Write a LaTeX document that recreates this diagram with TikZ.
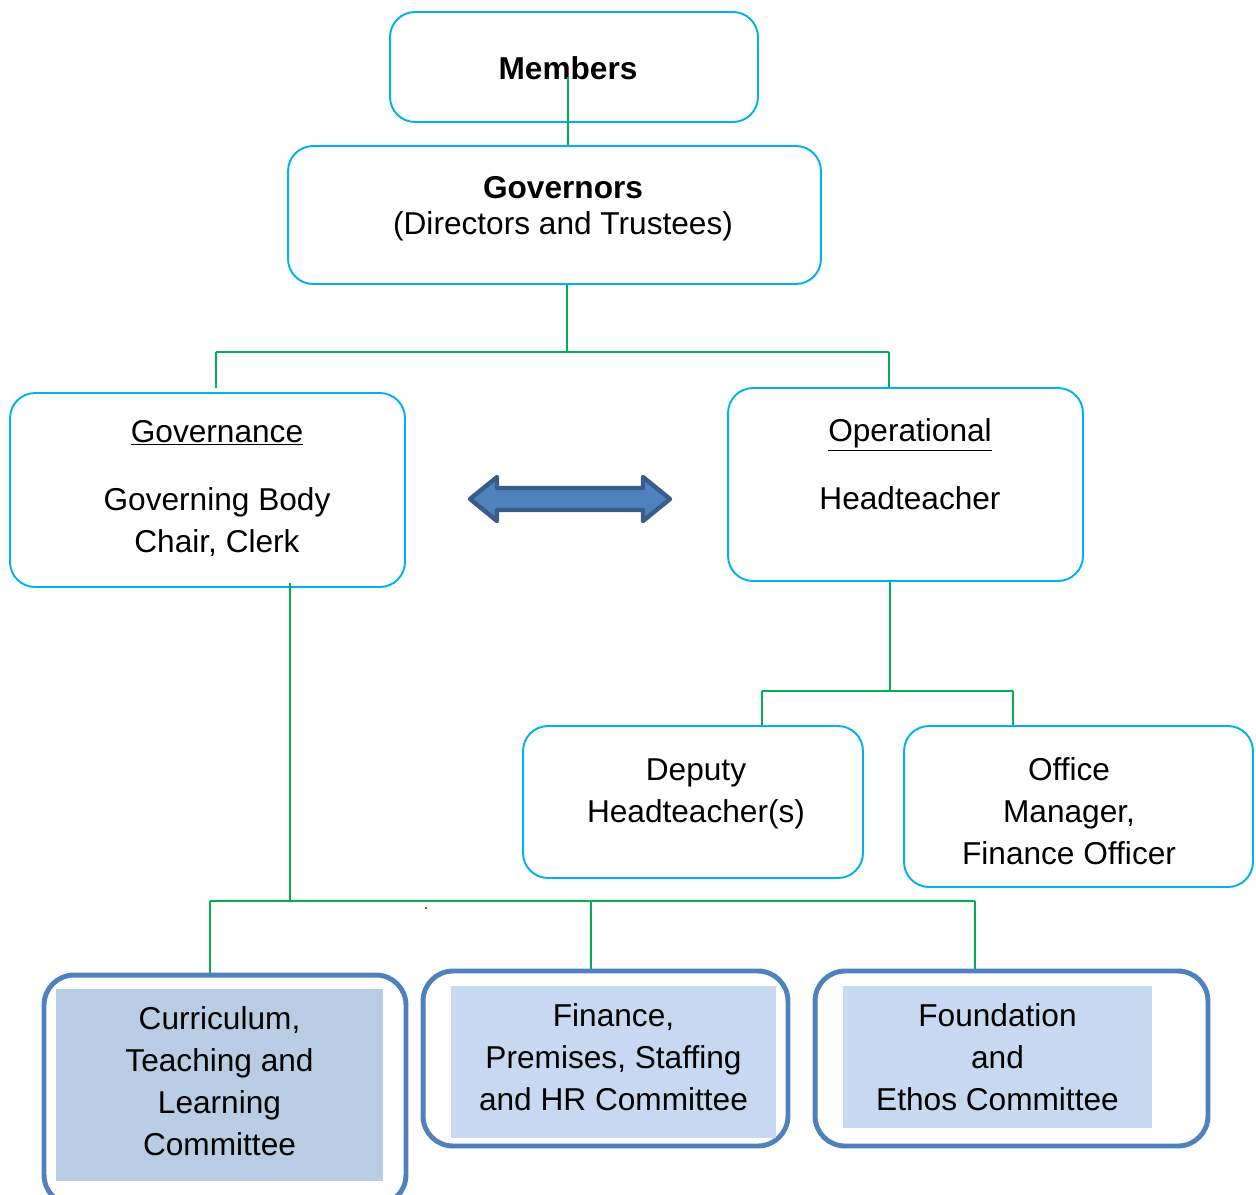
\documentclass[tikz,border=0pt]{standalone}
\usepackage{fontspec}
\setmainfont{Liberation Sans}
\usetikzlibrary{calc}

\definecolor{boxcyan}{HTML}{00B0F0}
\definecolor{linkgreen}{HTML}{00B050}
\definecolor{cttblue}{HTML}{4F81BD}
\definecolor{cttdark}{HTML}{385D8A}
\definecolor{cttfill}{HTML}{B8CCE4}
\definecolor{cttlight}{HTML}{C6D9F1}

\begin{document}
\begin{tikzpicture}[x=0.02cm, y=-0.02cm,
		font=\fontsize{18}{23.8}\selectfont,
		govbox/.style={draw=boxcyan, line width=1.1pt, rounded corners=0.5cm, inner sep=0pt},
		cttbox/.style={draw=cttblue, line width=2.8pt, rounded corners=0.6cm, inner sep=0pt},
		cttinner/.style={inner sep=0pt},
		txt/.style={align=center, inner sep=0pt},
		link/.style={draw=linkgreen, line width=1pt}]
				\useasboundingbox (0,0) rectangle (1256,1194);
				
				% boxes
				\node[govbox, minimum width=7.36cm, minimum height=2.2cm] (mem) at (574,67) {};
				\node[govbox, minimum width=10.66cm, minimum height=2.76cm] (govs) at (554.5,215) {};
				\node[govbox, minimum width=7.9cm, minimum height=3.88cm] (gvn) at (207.5,490) {};
				\node[govbox, minimum width=7.1cm, minimum height=3.86cm] (opn) at (905.5,484.5) {};
				\node[govbox, minimum width=6.8cm, minimum height=3.04cm] (dep) at (693,802) {};
				\node[govbox, minimum width=6.98cm, minimum height=3.22cm] (off) at (1078.5,806.5) {};
				
				\node[cttbox, minimum width=7.24cm, minimum height=4.6cm] (cur) at (225,1090) {};
				\node[cttbox, minimum width=7.3cm, minimum height=3.5cm] (fin) at (605.5,1058.5) {};
				\node[cttbox, minimum width=7.86cm, minimum height=3.5cm] (fnd) at (1011.5,1058.5) {};
				
				\node[cttinner, fill=cttfill, minimum width=6.54cm, minimum height=3.84cm] (curfill) at (219.5,1085) {};
				\node[cttinner, fill=cttlight, minimum width=6.5cm, minimum height=3.04cm] (finfill) at (613.5,1062) {};
				\node[cttinner, fill=cttlight, minimum width=6.18cm, minimum height=2.84cm] (fndfill) at (997.5,1057) {};
				
				% texts
				\node[txt] (mtxt) at (568,68) {\textbf{Members}};
				\node[txt] (gtxt) at (563,209) {\textbf{Governors}\\[-3.4pt](Directors and Trustees)};
				\node[txt] (gvntxt) at (217,488) {\underline{Governance}\\[15pt]Governing Body\\Chair, Clerk};
				\node[txt] (opntxt) at (910,464) {\underline{Operational}\\[15pt]Headteacher};
				\node[txt] (deptxt) at (696,794) {Deputy\\Headteacher(s)};
				\node[txt] (offtxt) at (1069,811) {Office\\Manager,\\Finance Officer};
				\node[txt] (curtxt) at (219.5,1081) {Curriculum,\\Teaching and\\Learning\\Committee};
				\node[txt] (fintxt) at (613.5,1057) {Finance,\\Premises, Staffing\\and HR Committee};
				\node[txt] (fndtxt) at (997.5,1057) {Foundation\\and\\Ethos Committee};
				
				% two-way arrow
				\draw[fill=cttblue, draw=cttdark, line width=2.5pt, line join=round]
					(470,499) -- (497,477) -- (497,488) -- (643,488) -- (643,477) -- (670,499)
					-- (643,521) -- (643,510) -- (497,510) -- (497,521) -- cycle;
				
				% junctions
				\coordinate (tl) at (216,352);
				\coordinate (tm) at (567,352);
				\coordinate (tr) at (889,352);
				\coordinate (lm) at (290,900);
				\coordinate (rm) at (890,691);
				\coordinate (ml) at (762,691);
				\coordinate (mr) at (1013,691);
				\coordinate (bl) at (210,901);
				\coordinate (bc) at (591,901);
				\coordinate (br) at (975,901);
				
				% connectors
				\draw[link] ($(mtxt.south)+(0,-3)$) -- (mtxt.south |- govs.north);
				\draw[link] (tm |- govs.south) -- (tm);
				\draw[link] (tl) -- (tr);
				\draw[link] (tl) -- ($(tl |- gvn.north)+(0,-4)$);
				\draw[link] (tr) -- (tr |- opn.north);
				\draw[link] ($(lm |- gvn.south)+(0,-5)$) -- (lm);
				\draw[link] (rm |- opn.south) -- (rm);
				\draw[link] (ml) -- (mr);
				\draw[link] (ml) -- (ml |- dep.north);
				\draw[link] (mr) -- (mr |- off.north);
				\draw[link] (bl) -- (br);
				\draw[link] (bl) -- (bl |- cur.north);
				\draw[link] (bc) -- (bc |- fin.north);
				\draw[link] (br) -- (br |- fnd.north);
				
				\fill (426,908) circle[radius=1];
\end{tikzpicture}
\end{document}
